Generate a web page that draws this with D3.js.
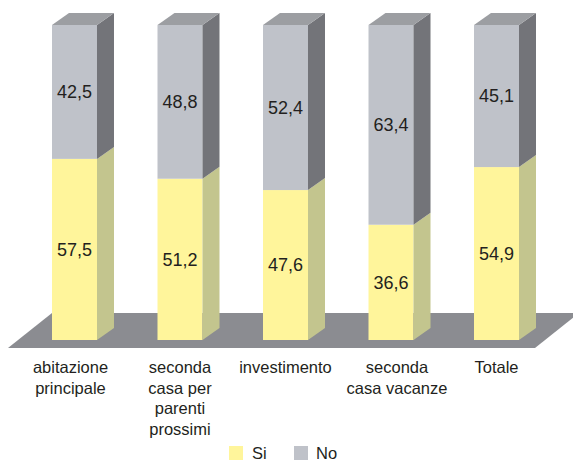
<!DOCTYPE html>
<html>
<head>
<meta charset="utf-8">
<script src="https://cdn.jsdelivr.net/npm/d3@7"></script>
<style>
  html, body { margin: 0; padding: 0; background: #fff; }
  svg { display: block; font-family: "Liberation Sans", Arial, sans-serif; }
</style>
</head>
<body>
<svg id="chart" width="573" height="463"></svg>
<script>
// Categories (multi-line labels) and stacked percentages
const categories = ["abitazione principale", "seconda casa per parenti prossimi", "investimento", "seconda casa vacanze", "Totale"];
const categoryLines = [["abitazione", "principale"], ["seconda", "casa per", "parenti", "prossimi"], ["investimento"], ["seconda", "casa vacanze"], ["Totale"]];
const siValues = [57.5, 51.2, 47.6, 36.6, 54.9];
const noValues = [42.5, 48.8, 52.4, 63.4, 45.1];
const seriesNames = ["Si", "No"];

const colors = {
  Si: { front: "#fff59b", side: "#c3c58e" },
  No: { front: "#bfc2c9", side: "#737479", top: "#9c9ea2" }
};
const floorColor = "#8b8c91";
const textColor = "#231f20";

const svg = d3.select("#chart");

// Perspective depth of the bars
const depthX = 17, depthY = 12;

const x = d3.scaleBand()
  .domain(categories)
  .range([21.75, 549.25])
  .paddingInner(0.5735)
  .paddingOuter(0.2867);

const y = d3.scaleLinear().domain([0, 100]).range([340, 25]);

// Floor
const floorBackY = 313, floorFrontY = 348;
svg.append("polygon")
  .attr("points", [[52, floorBackY], [579, floorBackY], [535, floorFrontY], [8, floorFrontY]].map(p => p.join(",")).join(" "))
  .attr("fill", floorColor);

// Stacked data
const rows = categories.map((c, i) => ({ cat: c, Si: siValues[i], No: noValues[i] }));
const stack = d3.stack().keys(seriesNames)(rows);

const bars = svg.append("g");

stack.forEach(layer => {
  const key = layer.key;
  layer.forEach((d, i) => {
    const x0 = x(categories[i]);
    const x1 = x0 + x.bandwidth();
    const yTop = y(d[1]), yBot = y(d[0]);
    // front face
    bars.append("rect")
      .attr("x", x0).attr("y", yTop)
      .attr("width", x.bandwidth()).attr("height", yBot - yTop)
      .attr("fill", colors[key].front);
    // side face
    bars.append("polygon")
      .attr("points", [[x1, yTop], [x1 + depthX, yTop - depthY], [x1 + depthX, yBot - depthY], [x1, yBot]].map(p => p.join(",")).join(" "))
      .attr("fill", colors[key].side);
    // top face for the uppermost segment
    if (key === "No") {
      bars.append("polygon")
        .attr("points", [[x0, yTop], [x1, yTop], [x1 + depthX, yTop - depthY], [x0 + depthX, yTop - depthY]].map(p => p.join(",")).join(" "))
        .attr("fill", colors[key].top);
    }
    // value label
    bars.append("text")
      .attr("x", x0 + x.bandwidth() / 2)
      .attr("y", (yTop + yBot) / 2)
      .attr("dy", "0.35em")
      .attr("text-anchor", "middle")
      .attr("font-size", 18)
      .attr("fill", textColor)
      .text(d3.format(".1f")(d.data[key]).replace(".", ","));
  });
});

// Category labels (small horizontal nudges for the wrapped ones)
const labelShift = [-4, 0, 0, 6, 0];
const labels = svg.append("g");
categories.forEach((c, i) => {
  const cx = x(c) + x.bandwidth() / 2 + labelShift[i];
  const t = labels.append("text")
    .attr("x", cx)
    .attr("y", 373)
    .attr("text-anchor", "middle")
    .attr("font-size", 16.5)
    .attr("fill", textColor);
  categoryLines[i].forEach((line, j) => {
    t.append("tspan").attr("x", cx).attr("dy", j === 0 ? 0 : 20.5).text(line);
  });
});

// Legend
const legend = svg.append("g");
const legendItems = [{ name: "Si", sx: 229, tx: 252 }, { name: "No", sx: 294, tx: 316 }];
legendItems.forEach(it => {
  legend.append("rect").attr("x", it.sx).attr("y", 446).attr("width", 14).attr("height", 14)
    .attr("fill", colors[it.name].front);
  legend.append("text").attr("x", it.tx).attr("y", 459).attr("font-size", 16.5)
    .attr("fill", textColor).text(it.name);
});
</script>
</body>
</html>
